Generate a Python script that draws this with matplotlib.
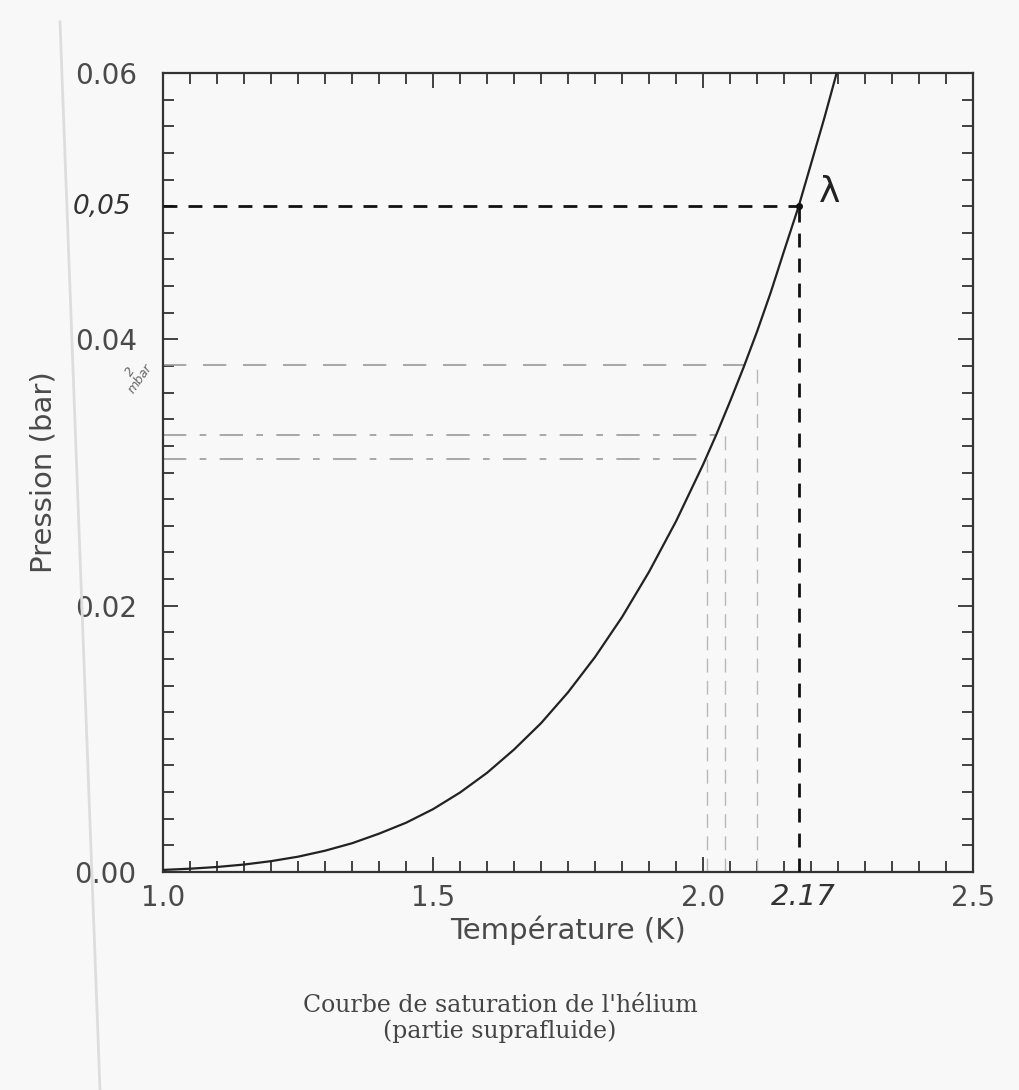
import numpy as np
import matplotlib
matplotlib.use("Agg")
from matplotlib import pyplot as plt
from matplotlib.ticker import MultipleLocator, FixedLocator
from matplotlib.lines import Line2D

# saturation curve of helium
temp = [1.00, 1.05, 1.10, 1.15, 1.20, 1.25, 1.30, 1.35, 1.40, 1.45, 1.50,
        1.55, 1.60, 1.65, 1.70, 1.75, 1.80, 1.85, 1.90, 1.95, 2.00, 2.025,
        2.05, 2.075, 2.10, 2.125, 2.15, 2.177, 2.20, 2.225, 2.25]
pres = [0.000156, 0.000248, 0.000377, 0.000560, 0.000815, 0.00115, 0.00160,
        0.00216, 0.00288, 0.00370, 0.00472, 0.00597, 0.00745, 0.00920,
        0.01118, 0.01350, 0.01615, 0.01915, 0.02255, 0.02635, 0.03060,
        0.03290, 0.03535, 0.03790, 0.04060, 0.04350, 0.04665, 0.0500,
        0.0532, 0.0567, 0.0604]

t_lambda = 2.177
p_lambda = 0.05
gray_levels = [0.0381, 0.0328, 0.0310]
gray_drop_t = [2.10, 2.04, 2.008]

x_ticks = [1.0, 1.5, 2.0, 2.5]
x_labels = ["1.0", "1.5", "2.0", "2.5"]
y_ticks = [0.00, 0.02, 0.04, 0.06]
y_labels = ["0.00", "0.02", "0.04", "0.06"]

fig = plt.figure(figsize=(10.19, 10.90), dpi=100)
fig.patch.set_facecolor("#f7f8f7")
ax = fig.add_axes([0.16, 0.2, 0.795, 0.733])
ax.set_facecolor("#f7f8f7")

ax.plot(temp, pres, color="#222222", lw=1.6, zorder=4)

# lambda point
ax.plot([1.0, t_lambda], [p_lambda, p_lambda], color="#111111", lw=2,
        dashes=(5, 4), zorder=3)
ax.plot([t_lambda, t_lambda], [0, p_lambda], color="#111111", lw=2,
        dashes=(5, 4), zorder=3)
ax.plot([t_lambda], [p_lambda], "o", color="#111111", ms=4, zorder=5)

# hand drawn gray guides
styles = [(0, (14, 10)), (0, (14, 8, 4, 8)), (0, (14, 8, 4, 8))]
for lvl, td, ls in zip(gray_levels, gray_drop_t, styles):
    t_hit = np.interp(lvl, pres, temp)
    ax.plot([1.0, t_hit], [lvl, lvl], color="#9a9a9a", lw=1.2, linestyle=ls, zorder=2)
    ax.plot([td, td], [0, lvl], color="#b8b8b8", lw=1.0, linestyle=(0, (10, 6)), zorder=2)

ax.set_xlim(1.0, 2.5)
ax.set_ylim(0.0, 0.06)
ax.xaxis.set_major_locator(FixedLocator(x_ticks))
ax.xaxis.set_minor_locator(MultipleLocator(0.05))
ax.yaxis.set_major_locator(FixedLocator(y_ticks))
ax.yaxis.set_minor_locator(MultipleLocator(0.002))
ax.set_xticklabels(x_labels)
ax.set_yticklabels(y_labels)
ax.tick_params(which="both", direction="in", top=True, right=True,
               color="#333333", width=1.3)
ax.tick_params(which="major", length=11, labelsize=20, labelcolor="#4a4a4a")
ax.tick_params(axis="y", which="major", pad=19)
ax.tick_params(axis="x", which="major", pad=9)
ax.tick_params(which="minor", length=8)
for s in ax.spines.values():
    s.set_color("#333333")
    s.set_linewidth(1.6)

ax.set_xlabel("Température (K)", fontsize=21, color="#4a4a4a", labelpad=2)
ax.set_ylabel("Pression (bar)", fontsize=21, color="#4a4a4a", labelpad=12)

# handwritten annotations
fig.text(830 / 1019, 1 - 192 / 1090, "λ", fontsize=26, color="#222222",
         ha="center", va="center")
fig.text(803 / 1019, 1 - 897 / 1090, "2.17", fontsize=21, color="#333333",
         ha="center", va="center", style="italic")
fig.text(102 / 1019, 1 - 207 / 1090, "0,05", fontsize=19, color="#333333",
         ha="center", va="center", style="italic")
fig.text(135 / 1019, 1 - 375 / 1090, "2\nmbar", fontsize=9, color="#666666",
         ha="center", va="center", style="italic", rotation=55, linespacing=0.9)

fig.text(500 / 1019, 1 - 1005 / 1090, "Courbe de saturation de l'hélium",
         family="DejaVu Serif", fontsize=17, color="#444444", ha="center", va="center")
fig.text(500 / 1019, 1 - 1031 / 1090, "(partie suprafluide)",
         family="DejaVu Serif", fontsize=17, color="#444444", ha="center", va="center")

# scan edge
fig.add_artist(Line2D([60 / 1019, 100 / 1019], [0.98, 0.0], color="#dddddd", lw=2))

fig.savefig("out.png", dpi=100, facecolor=fig.get_facecolor())
